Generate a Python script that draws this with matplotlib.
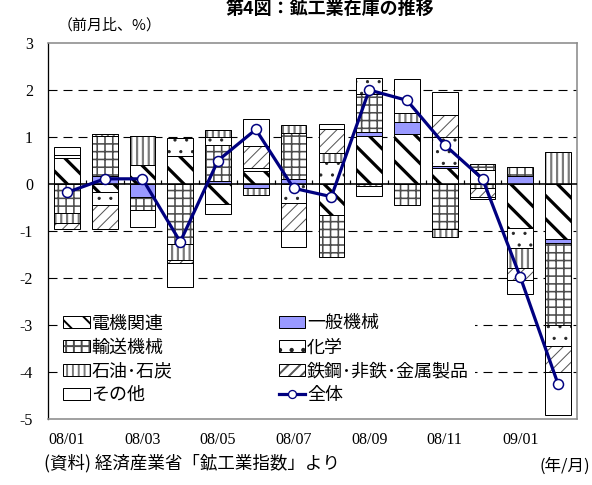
import numpy as np
import matplotlib
matplotlib.use("Agg")
import matplotlib.pyplot as plt
from matplotlib.patches import Patch
from matplotlib.legend_handler import HandlerTuple

# ---- data (前月比寄与度, %) ----
months = ["08/01", "08/02", "08/03", "08/04", "08/05", "08/06", "08/07",
          "08/08", "08/09", "08/10", "08/11", "08/12", "09/01", "09/02"]
tick_labels = ["08/01", "", "08/03", "", "08/05", "", "08/07",
               "", "08/09", "", "08/11", "", "09/01", ""]

elec      = [0.56, -0.16, 0.41, 0.59, -0.43, 0.28, 0.00, -0.66, 1.02, 1.06, 0.34, 0.30, -0.93, -1.16]
gen_mach  = [0.00, 0.16, -0.27, 0.00, 0.06, -0.09, 0.11, 0.00, 0.08, 0.25, 0.05, 0.00, 0.16, -0.10]
transport = [-0.62, 0.87, -0.28, -1.28, 0.78, 0.00, 0.98, -0.89, 0.81, -0.44, -0.96, 0.13, 0.20, -1.73]
chem      = [0.05, -0.28, 0.00, 0.38, 0.16, 0.05, -0.41, 0.47, 0.34, 0.00, 0.61, 0.00, -0.44, -0.45]
petro     = [-0.22, 0.04, 0.61, -0.33, 0.15, -0.14, 0.16, 0.19, -0.05, 0.21, -0.17, -0.08, -0.41, 0.68]
steel     = [-0.12, -0.52, 0.00, -0.07, 0.00, 0.47, -0.60, 0.52, 0.00, 0.00, 0.46, -0.20, -0.27, -0.57]
other     = [0.17, 0.00, -0.36, -0.52, -0.21, 0.59, -0.33, 0.10, -0.20, 0.71, 0.50, -0.04, -0.30, -0.91]
total     = [-0.18, 0.11, 0.11, -1.23, 0.50, 1.16, -0.09, -0.27, 2.00, 1.78, 0.83, 0.11, -1.98, -4.26]

# ---- canvas ----
DPI = 140
W, H = 592, 485


def pt(px):
    return px * 72.0 / DPI


plt.rcParams["lines.scale_dashes"] = False
JP = ["Noto Sans CJK JP", "DejaVu Sans"]
SERIF = ["Liberation Serif", "DejaVu Serif"]

fig = plt.figure(figsize=(W / DPI, H / DPI), dpi=DPI)
ax = fig.add_axes([48 / W, 1 - 419 / H, 529 / W, 376 / H])

# (label, values, face, hatch, hatch colour, hatch line width px)
series = [
    ("電機関連", elec, "white", "\\\\", "black", 3.2),
    ("一般機械", gen_mach, "#9999ff", None, "black", 1.0),
    ("輸送機械", transport, "white", "+++", "#4d4d4d", 1.6),
    ("化学", chem, "white", "..", "#222222", 0.8),
    ("石油･石炭", petro, "white", "||||", "#7a7a7a", 2.2),
    ("鉄鋼･非鉄･金属製品", steel, "white", "////", "#555555", 1.0),
    ("その他", other, "white", None, "black", 1.0),
]

x = np.arange(len(months))
width = 0.68
pos_base = np.zeros(len(months))
neg_base = np.zeros(len(months))
handles = {}

for label, vals, fc, hatch, hc, hlw in series:
    v = np.asarray(vals, dtype=float)
    bottoms = np.where(v >= 0, pos_base, neg_base)
    with plt.rc_context({"hatch.linewidth": pt(hlw)}):
        bars = ax.bar(x, v, width, bottom=bottoms, color=fc, edgecolor=hc,
                      hatch=hatch, linewidth=0, zorder=2)
        for b in bars:
            if hasattr(b, "set_hatch_linewidth"):
                b.set_hatch_linewidth(pt(hlw))
        hp = Patch(facecolor=fc, edgecolor=hc, hatch=hatch, linewidth=0)
        if hasattr(hp, "set_hatch_linewidth"):
            hp.set_hatch_linewidth(pt(hlw))
    ax.bar(x, v, width, bottom=bottoms, fill=False, edgecolor="black",
           linewidth=pt(1.0), zorder=3)
    op = Patch(fill=False, edgecolor="black", linewidth=pt(1.0))
    handles[label] = (hp, op)
    pos_base = pos_base + np.where(v > 0, v, 0)
    neg_base = neg_base + np.where(v < 0, v, 0)

line, = ax.plot(x, total, color="#000080", lw=pt(3.2), marker="o",
                ms=pt(10), mfc="white", mec="#000080", mew=pt(1.5), zorder=5)
legend_line = plt.Line2D([], [], color="#000080", lw=pt(3.2), marker="o",
                         ms=pt(8), mfc="white", mec="#000080", mew=pt(1.3))
handles["全体"] = legend_line

# ---- axes styling ----
ax.set_xlim(-0.5, len(months) - 0.5)
ax.set_ylim(-5, 3)
yt = np.arange(-5, 4)
ax.set_yticks(yt)
ax.set_yticklabels([str(int(t)) for t in yt], fontfamily=SERIF, fontsize=pt(16))
ax.set_xticks(x)
ax.set_xticklabels(tick_labels, fontfamily=SERIF, fontsize=pt(16))
ax.tick_params(axis="y", length=0, pad=pt(15))
ax.tick_params(axis="x", length=0, pad=pt(13))

for yv in [2, 1, -1, -2, -3, -4]:
    ax.axhline(yv, color="black", lw=pt(1.1), ls=(0, (pt(9), pt(6))), zorder=1)
ax.axhline(0, color="black", lw=pt(1.6), zorder=4)
ax.vlines(x[:-1] + 0.5, 0, 0.09, color="black", lw=pt(1.2), zorder=4)

ax.spines["left"].set_color("black")
ax.spines["left"].set_linewidth(pt(1.3))
for s in ["top", "right", "bottom"]:
    ax.spines[s].set_color("#8c8c8c")
    ax.spines[s].set_linewidth(pt(1.6))

# ---- legend ----
order = ["電機関連", "輸送機械", "石油･石炭", "その他",
         "一般機械", "化学", "鉄鋼･非鉄･金属製品", "全体"]
leg = ax.legend([handles[k] for k in order], order, ncol=2,
                handler_map={tuple: HandlerTuple(ndivide=1, pad=0)},
                loc="upper left", bbox_to_anchor=(58 / W, 1 - 309 / H),
                bbox_transform=fig.transFigure, frameon=True, fancybox=False,
                facecolor="white", edgecolor="none", framealpha=1,
                prop={"family": JP, "size": pt(18)},
                handlelength=1.45, handleheight=0.6, handletextpad=0.12,
                labelspacing=0.33, columnspacing=5.9, borderpad=0.3,
                borderaxespad=0)
leg.set_zorder(6)

# ---- texts ----
fig.text(330 / W, 1 - 9 / H, "第4図：鉱工業在庫の推移", ha="center", va="center",
         fontfamily=JP, fontweight="bold", fontsize=pt(18))
fig.text(58 / W, 1 - 25 / H, "（前月比、%）", ha="left", va="center",
         fontfamily=JP, fontsize=pt(15))
fig.text(44 / W, 1 - 463 / H, "(資料) 経済産業省「鉱工業指数」より", ha="left",
         va="center", fontfamily=JP, fontsize=pt(17.5))
fig.text(590 / W, 1 - 466 / H, "(年/月)", ha="right", va="center",
         fontfamily=JP, fontsize=pt(16.5))

fig.savefig("out.png", dpi=DPI, facecolor="white")
